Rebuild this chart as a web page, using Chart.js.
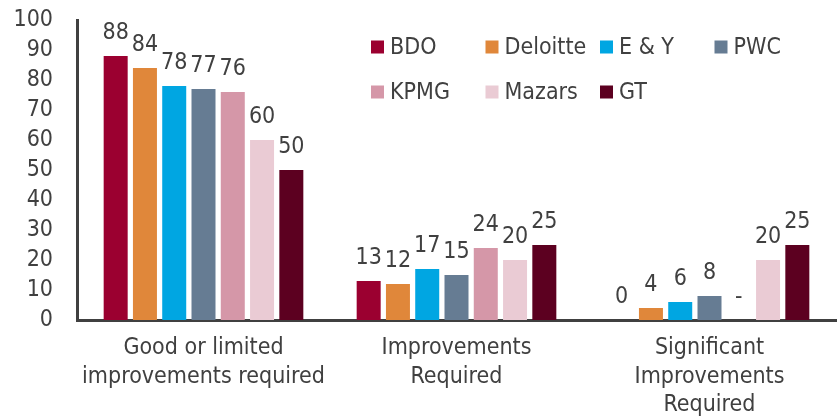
<!DOCTYPE html>
<html>
<head>
<meta charset="utf-8">
<script src="https://cdn.jsdelivr.net/npm/chart.js@4.4.1/dist/chart.umd.min.js"></script>
<style>
    html, body { margin: 0; padding: 0; background: #fff; }
    #wrap { width: 838px; height: 416px; }
</style>
</head>
<body>
<div id="wrap"><canvas id="chart"></canvas></div>
<script>
const categories = [
    ['Good or limited', 'improvements required'],
    ['Improvements', 'Required'],
    ['Significant', 'Improvements', 'Required']
];
const firms = ['BDO', 'Deloitte', 'E & Y', 'PWC', 'KPMG', 'Mazars', 'GT'];
const bdo = [88, 13, 0];
const deloitte = [84, 12, 4];
const ey = [78, 17, 6];
const pwc = [77, 15, 8];
const kpmg = [76, 24, null];
const mazars = [60, 20, 20];
const gt = [50, 25, 25];
const yTicks = [0, 10, 20, 30, 40, 50, 60, 70, 80, 90, 100];

const colors = ['#9b0030', '#e0873a', '#00a6e2', '#667c93', '#d597a8', '#eacbd4', '#5c0020'];
const series = [bdo, deloitte, ey, pwc, kpmg, mazars, gt];
const textColor = '#404040';
const fontFamily = '"DejaVu Sans Condensed", "DejaVu Sans", sans-serif';
const fontSize = 23;

// value labels above each bar, "-" where there is no value
const barLabels = {
    id: 'barLabels',
    afterDatasetsDraw(chart) {
        const ctx = chart.ctx;
        const zeroY = chart.scales.y.getPixelForValue(0);
        ctx.save();
        ctx.font = fontSize + 'px ' + fontFamily;
        ctx.fillStyle = textColor;
        ctx.textAlign = 'center';
        ctx.textBaseline = 'alphabetic';
        chart.data.datasets.forEach((ds, i) => {
            chart.getDatasetMeta(i).data.forEach((bar, j) => {
                const v = ds.data[j];
                const top = v === null ? zeroY : bar.y;
                ctx.fillText(v === null ? '-' : String(v), bar.x, top - 17);
            });
        });
        ctx.restore();
    }
};

// legend drawn inside the plot area, 4 columns
const insideLegend = {
    id: 'insideLegend',
    afterDraw(chart) {
        const ctx = chart.ctx;
        const area = chart.chartArea;
        ctx.save();
        ctx.font = fontSize + 'px ' + fontFamily;
        ctx.textBaseline = 'middle';
        ctx.textAlign = 'left';
        chart.data.datasets.forEach((ds, i) => {
            const col = i % 4;
            const row = Math.floor(i / 4);
            const x = area.left + 294 + col * 114.5;
            const y = area.top + 27 + row * 45;
            ctx.fillStyle = ds.backgroundColor;
            ctx.fillRect(x, y - 6.5, 13, 13);
            ctx.fillStyle = textColor;
            ctx.fillText(ds.label, x + 19, y + 1);
        });
        ctx.restore();
    }
};

const config = {
    type: 'bar',
    data: {
        labels: categories,
        datasets: firms.map((name, i) => ({
            label: name,
            data: series[i],
            backgroundColor: colors[i],
            borderWidth: 0,
            categoryPercentage: 0.81,
            barPercentage: 0.82
        }))
    },
    options: {
        responsive: true,
        maintainAspectRatio: false,
        animation: false,
        layout: { padding: { top: 20, right: 2, left: 0, bottom: 0 } },
        plugins: {
            legend: { display: false },
            tooltip: { enabled: false }
        },
        scales: {
            x: {
                grid: { display: false, drawTicks: false },
                border: { display: true, color: textColor, width: 3 },
                ticks: {
                    color: textColor,
                    font: { family: fontFamily, size: fontSize, lineHeight: 1.24 },
                    padding: 14,
                    maxRotation: 0,
                    autoSkip: false
                },
                afterFit(scale) { scale.height = 96; }
            },
            y: {
                min: 0,
                max: 100,
                grid: { display: false, drawTicks: false },
                border: { display: true, color: textColor, width: 3 },
                afterBuildTicks(scale) { scale.ticks = yTicks.map(v => ({ value: v })); },
                ticks: {
                    color: textColor,
                    font: { family: fontFamily, size: fontSize },
                    padding: 24,
                    autoSkip: false
                },
                afterFit(scale) {
                    scale.width = 77;
                    scale.paddingTop = 0;
                    scale.paddingBottom = 0;
                }
            }
        }
    },
    plugins: [barLabels, insideLegend]
};

const chart = new Chart(document.getElementById('chart').getContext('2d'), config);
</script>
</body>
</html>
